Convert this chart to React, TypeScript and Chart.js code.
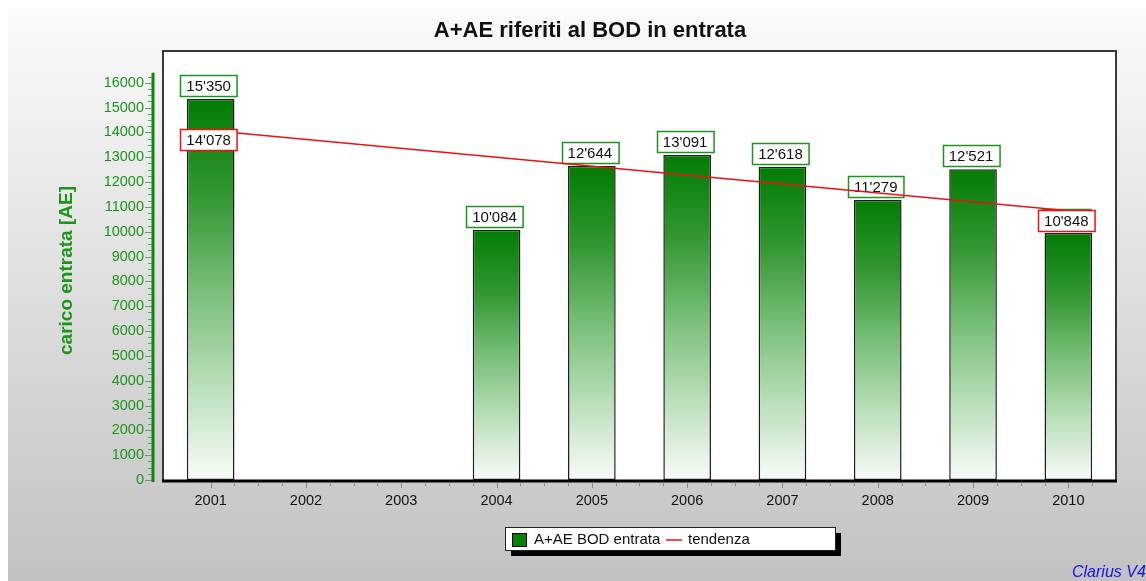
import React, { useEffect, useRef } from "react";
import { Chart, registerables } from "chart.js";

Chart.register(...registerables);

const years = ["2001", "2002", "2003", "2004", "2005", "2006", "2007", "2008", "2009", "2010"];
const bodEntrata: (number | null)[] = [15350, null, null, 10084, 12644, 13091, 12618, 11279, 12521, 9950];
const tendenza: (number | null)[] = [14078, null, null, null, null, null, null, null, null, 10848];
const yTickValues = [0, 1000, 2000, 3000, 4000, 5000, 6000, 7000, 8000, 9000, 10000, 11000, 12000, 13000, 14000, 15000, 16000];

const titleText = "A+AE riferiti al BOD in entrata";
const yTitle = "carico entrata [AE]";
const seriesNames = ["A+AE BOD entrata", "tendenza"];
const footer = "Clarius V4";

const FONT = "'Liberation Sans', Arial, Helvetica, sans-serif";
const GREEN_TXT = "#1a961a";
const GREEN_AX = "#0c880c";

function fmt(v: number): string {
  return String(Math.round(v)).replace(/\B(?=(\d{3})+(?!\d))/g, "'");
}

function drawBox(ctx: CanvasRenderingContext2D, cx: number, top: number, text: string, border: string) {
  ctx.save();
  ctx.font = `15px ${FONT}`;
  const w = ctx.measureText(text).width + 12;
  const h = 21;
  const x = Math.round(cx - w / 2) + 0.5;
  const y = Math.round(top) + 0.5;
  ctx.fillStyle = "#ffffff";
  ctx.fillRect(x, y, w, h);
  ctx.strokeStyle = border;
  ctx.lineWidth = 1.5;
  ctx.strokeRect(x, y, w, h);
  ctx.fillStyle = "#111";
  ctx.textAlign = "center";
  ctx.textBaseline = "middle";
  ctx.fillText(text, cx, y + h / 2 + 1);
  ctx.restore();
}

const decorPlugin = {
  id: "decor",
  beforeDraw(chart: any) {
    const { ctx, width, height, chartArea } = chart;
    ctx.save();
    const g = ctx.createLinearGradient(0, 0, 0, height);
    g.addColorStop(0, "#fbfbfb");
    g.addColorStop(0.5, "#dedede");
    g.addColorStop(1, "#c2c2c2");
    ctx.fillStyle = g;
    ctx.fillRect(0, 0, width, height);
    ctx.fillStyle = "#ffffff";
    ctx.fillRect(chartArea.left, chartArea.top, chartArea.right - chartArea.left, chartArea.bottom - chartArea.top);
    ctx.restore();
  },
  afterDatasetDraw(chart: any, args: any) {
    const ctx = chart.ctx;
    const meta = args.meta;
    if (meta.type === "bar") {
      meta.data.forEach((el: any, i: number) => {
        const v = bodEntrata[i];
        if (v == null) return;
        drawBox(ctx, el.x - 2, el.y - 24, fmt(v), "#1f931f");
      });
    } else if (meta.type === "line") {
      meta.data.forEach((el: any, i: number) => {
        const v = tendenza[i];
        if (v == null) return;
        drawBox(ctx, el.x - 2, el.y - 1, fmt(v), "#ee1111");
      });
    }
  },
  afterDraw(chart: any) {
    const { ctx, chartArea, scales } = chart;
    const { left, top, right, bottom } = chartArea;
    const y = scales.y;
    const x = scales.x;
    ctx.save();
    // frame
    ctx.lineCap = "butt";
    ctx.strokeStyle = "#3a3a3a";
    ctx.lineWidth = 2;
    ctx.beginPath();
    ctx.moveTo(left, bottom);
    ctx.lineTo(left, top);
    ctx.lineTo(right, top);
    ctx.lineTo(right, bottom);
    ctx.stroke();
    ctx.strokeStyle = "#000";
    ctx.lineWidth = 3;
    ctx.beginPath();
    ctx.moveTo(left - 1, bottom + 1);
    ctx.lineTo(right + 1, bottom + 1);
    ctx.stroke();

    // x ticks
    ctx.strokeStyle = "#8a8a8a";
    ctx.lineWidth = 1;
    const step = (x.getPixelForValue(1) - x.getPixelForValue(0)) / 4;
    const x0 = x.getPixelForValue(0);
    for (let k = 0; ; k++) {
      const px = x0 + k * step;
      if (px > right - 2) break;
      ctx.beginPath();
      ctx.moveTo(Math.round(px) + 0.5, bottom + 2);
      ctx.lineTo(Math.round(px) + 0.5, bottom + (k % 4 === 0 ? 8 : 6));
      ctx.stroke();
    }

    // y axis line and ticks
    const axX = left - 10;
    for (let v = 0; v <= 16250; v += 250) {
      const py = Math.round(y.getPixelForValue(v)) + 0.5;
      ctx.beginPath();
      ctx.moveTo(v % 1000 === 0 ? axX - 8 : axX - 5, py);
      ctx.lineTo(axX, py);
      ctx.stroke();
    }
    ctx.strokeStyle = GREEN_AX;
    ctx.lineWidth = 3;
    ctx.beginPath();
    ctx.moveTo(axX, y.getPixelForValue(16400));
    ctx.lineTo(axX, bottom + 2);
    ctx.stroke();

    // y title
    ctx.fillStyle = GREEN_TXT;
    ctx.font = `bold 19px ${FONT}`;
    ctx.textAlign = "center";
    ctx.textBaseline = "middle";
    ctx.translate(59, (top + bottom) / 2 + 5);
    ctx.rotate(-Math.PI / 2);
    ctx.fillText(yTitle, 0, 0);
    ctx.restore();

    // title
    ctx.save();
    ctx.fillStyle = "#111";
    ctx.font = `bold 22px ${FONT}`;
    ctx.textAlign = "center";
    ctx.textBaseline = "middle";
    ctx.fillText(titleText, 582, 23);

    // legend
    const lx = 497, ly = 519, lw = 330, lh = 23;
    ctx.fillStyle = "#000";
    ctx.fillRect(lx + 6, ly + 6, lw, lh);
    ctx.fillStyle = "#fff";
    ctx.fillRect(lx, ly, lw, lh);
    ctx.strokeStyle = "#222";
    ctx.lineWidth = 1;
    ctx.strokeRect(lx + 0.5, ly + 0.5, lw, lh);
    ctx.fillStyle = "#078207";
    ctx.fillRect(504, 525, 14, 13);
    ctx.strokeStyle = "#000";
    ctx.strokeRect(504.5, 525.5, 14, 13);
    ctx.font = `15px ${FONT}`;
    ctx.textAlign = "left";
    ctx.fillStyle = "#111";
    ctx.fillText(seriesNames[0], 526, 532);
    ctx.strokeStyle = "#ee1111";
    ctx.lineWidth = 1.5;
    ctx.beginPath();
    ctx.moveTo(658, 532);
    ctx.lineTo(674, 532);
    ctx.stroke();
    ctx.fillText(seriesNames[1], 680, 532);

    // footer
    ctx.fillStyle = "#1515e6";
    ctx.font = `italic 16px ${FONT}`;
    ctx.fillText(footer, 1064, 565);
    ctx.restore();
  },
};

export default function App() {
  const ref = useRef<HTMLCanvasElement | null>(null);
  useEffect(() => {
    if (!ref.current) return;
    const chart = new Chart(ref.current, {
      type: "bar",
      data: {
        labels: years,
        datasets: [
          {
            type: "line",
            label: seriesNames[1],
            data: tendenza,
            borderColor: "#ee1111",
            borderWidth: 1.5,
            pointRadius: 0,
            spanGaps: true,
            fill: false,
            order: 1,
          } as any,
          {
            type: "bar",
            label: seriesNames[0],
            data: bodEntrata,
            barPercentage: 0.5,
            categoryPercentage: 1,
            borderColor: "#1e1e1e",
            borderWidth: 1.5,
            borderSkipped: false,
            order: 2,
            backgroundColor: (c: any) => {
              const chart = c.chart;
              const { chartArea, scales } = chart;
              if (!chartArea || c.type !== "data" || c.raw == null) return "#078207";
              const yTop = scales.y.getPixelForValue(c.raw);
              const yBot = scales.y.getPixelForValue(0);
              const g = chart.ctx.createLinearGradient(0, yTop, 0, yBot);
              g.addColorStop(0, "rgb(2,124,2)");
              g.addColorStop(0.25, "rgb(50,150,50)");
              g.addColorStop(0.5, "rgb(120,190,120)");
              g.addColorStop(0.75, "rgb(186,222,186)");
              g.addColorStop(1, "rgb(248,252,248)");
              return g;
            },
          } as any,
        ],
      },
      options: {
        animation: false,
        responsive: false,
        devicePixelRatio: 1,
        layout: { padding: { left: 0, top: 43, right: 30, bottom: 0 } },
        plugins: {
          legend: { display: false },
          title: { display: false },
          tooltip: { enabled: false },
        },
        scales: {
          x: {
            type: "category",
            grid: { display: false },
            border: { display: false },
            ticks: { color: "#111", font: { family: FONT, size: 14.5 }, padding: 4, maxRotation: 0, autoSkip: false },
            afterFit: (s: any) => { s.height = 101; },
          },
          y: {
            min: 0,
            max: 17280,
            grid: { display: false },
            border: { display: false },
            afterBuildTicks: (s: any) => { s.ticks = yTickValues.map((v) => ({ value: v })); },
            ticks: {
              color: GREEN_TXT,
              font: { family: FONT, size: 14.5 },
              padding: 11,
              callback: (v: any) => String(v),
            },
            afterFit: (s: any) => { s.width = 155; },
          },
        },
      },
      plugins: [decorPlugin],
    });
    return () => chart.destroy();
  }, []);
  return (
    <div style={{ position: "fixed", left: 8, top: 8, width: 1138, height: 573 }}>
      <canvas ref={ref} width={1138} height={573} style={{ display: "block", width: 1138, height: 573 }} />
    </div>
  );
}
